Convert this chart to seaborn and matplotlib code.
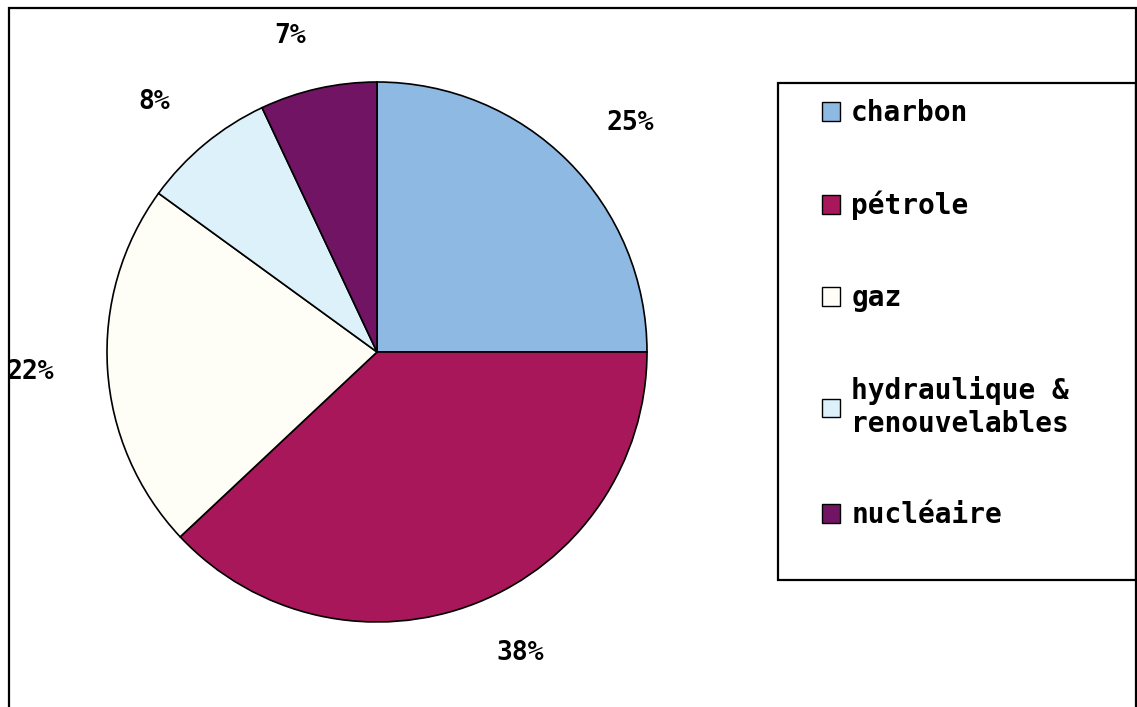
import matplotlib
matplotlib.use('Agg')
import matplotlib.pyplot as plt
import seaborn as sns
from matplotlib.patches import Rectangle

# energy mix shares
sources = ['charbon', 'pétrole', 'gaz', 'hydraulique &\nrenouvelables', 'nucléaire']
shares = [25, 38, 22, 8, 7]
labels = ['25%', '38%', '22%', '8%', '7%']
colors = ['#8DB9E3', '#A8175A', '#FFFEF6', '#DDF1FA', '#721464']

sns.set_style('white')
plt.rcParams['font.family'] = ['DejaVu Sans Mono', 'DejaVu Sans']
plt.rcParams['font.weight'] = 'bold'
plt.rcParams['text.color'] = 'black'

fig = plt.figure(figsize=(11.37, 7.07), dpi=100)
W, H = 1137, 707

# pie centred at (377, 352) px, radius 270 px
ax = fig.add_axes([107 / W, (H - 352 - 270) / H, 540 / W, 540 / H])
wedges, texts = ax.pie(shares, colors=colors, labels=labels, startangle=90,
                       counterclock=False, labeldistance=1.2,
                       wedgeprops=dict(edgecolor='black', linewidth=1.2),
                       textprops=dict(fontsize=19, fontweight='bold', color='black'))
ax.set_xlim(-1, 1)
ax.set_ylim(-1, 1)
ax.set_aspect('equal')

# legend entries, frame drawn separately
leg = fig.legend(wedges, sources,
                 loc='upper left',
                 bbox_to_anchor=(822 / W, 1 - 99 / H),
                 borderaxespad=0, borderpad=0,
                 prop=dict(family='DejaVu Sans Mono', weight='bold', size=20),
                 labelspacing=2.3,
                 handlelength=0.65, handleheight=0.65, handletextpad=0.4,
                 frameon=False, labelcolor='black')
for h in leg.legend_handles:
    h.set_edgecolor('black')
    h.set_linewidth(1.0)

fig.patches.append(Rectangle((778 / W, 1 - 580 / H), (1136 - 778) / W, (580 - 83) / H,
                             transform=fig.transFigure, fill=False,
                             edgecolor='black', linewidth=1.6))

# outer chart border
fig.patches.append(Rectangle((9 / W, -0.05), (1136 - 9) / W, 1 - 8 / H + 0.05,
                             transform=fig.transFigure, fill=False,
                             edgecolor='black', linewidth=1.6))

fig.savefig('out.png', dpi=100)
